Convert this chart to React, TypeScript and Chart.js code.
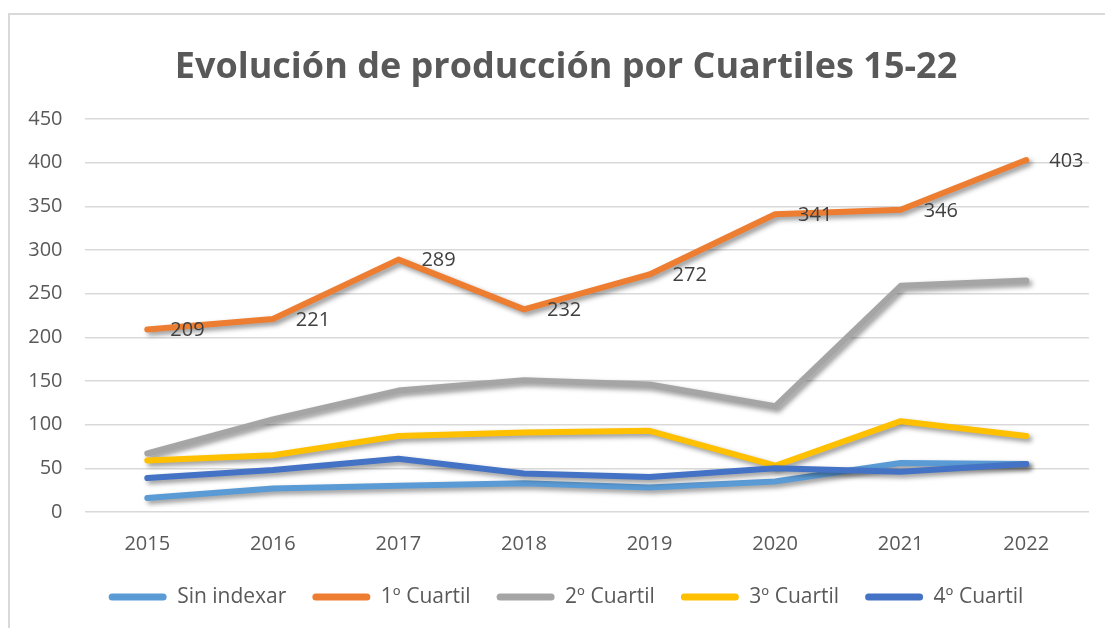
import React, { useEffect, useRef } from "react";
import { Chart, registerables } from "chart.js";

Chart.register(...registerables);

const years = ["2015", "2016", "2017", "2018", "2019", "2020", "2021", "2022"];
const seriesNames = ["Sin indexar", "1º Cuartil", "2º Cuartil", "3º Cuartil", "4º Cuartil"];
const sinIndexar = [16, 27, 30, 33, 28, 35, 56, 55];
const cuartil1 = [209, 221, 289, 232, 272, 341, 346, 403];
const cuartil2 = [67, 106, 139, 151, 146, 121, 259, 265];
const cuartil3 = [59, 65, 87, 91, 93, 53, 104, 87];
const cuartil4 = [39, 48, 61, 44, 40, 50, 46, 55];
const seriesColors = ["#5B9BD5", "#ED7D31", "#A5A5A5", "#FFC000", "#4472C4"];
const yMin = 0;
const yMax = 450;
const yStep = 50;
const titleText = "Evolución de producción por Cuartiles 15-22";
const FONT = "'Open Sans', 'DejaVu Sans', sans-serif";

const shadowPlugin = {
  id: "lineShadow",
  beforeDatasetDraw(chart: any) {
    const ctx = chart.ctx;
    ctx.save();
    ctx.shadowColor = "rgba(0,0,0,0.42)";
    ctx.shadowBlur = 5;
    ctx.shadowOffsetX = 3;
    ctx.shadowOffsetY = 3;
  },
  afterDatasetDraw(chart: any) {
    chart.ctx.restore();
  },
};

const labelPlugin = {
  id: "q1Labels",
  afterDatasetsDraw(chart: any) {
    const ctx = chart.ctx;
    const meta = chart.getDatasetMeta(1);
    const data = chart.data.datasets[1].data as number[];
    ctx.save();
    ctx.font = `20px ${FONT}`;
    ctx.fillStyle = "#404040";
    ctx.textAlign = "left";
    ctx.textBaseline = "middle";
    meta.data.forEach((pt: any, i: number) => {
      ctx.fillText(String(data[i]), pt.x + 23, pt.y + 1);
    });
    ctx.restore();
  },
};

export default function App() {
  const ref = useRef<HTMLCanvasElement>(null);
  useEffect(() => {
    if (!ref.current) return;
    const all = [sinIndexar, cuartil1, cuartil2, cuartil3, cuartil4];
    const chart = new Chart(ref.current, {
      type: "line",
      data: {
        labels: years,
        datasets: all.map((d, i) => ({
          label: seriesNames[i],
          data: d,
          borderColor: seriesColors[i],
          backgroundColor: seriesColors[i],
          borderWidth: 6,
          borderCapStyle: "round",
          borderJoinStyle: "round",
          pointRadius: 0,
          tension: 0,
          fill: false,
          clip: false,
          order: -i,
        })) as any,
      },
      options: {
        responsive: false,
        animation: false,
        layout: { padding: { left: 43, right: 16, top: 0, bottom: 10.5 } },
        plugins: {
          tooltip: { enabled: false },
          title: {
            display: true,
            text: titleText,
            color: "#595959",
            font: { family: FONT, size: 36, weight: "bold", lineHeight: 1.2 },
            padding: { top: 46, bottom: 29.8 },
          },
          legend: {
            position: "bottom",
            labels: {
              sort: (a: any, b: any) => a.datasetIndex - b.datasetIndex,
              boxWidth: 58,
              boxHeight: 7,
              useBorderRadius: true,
              borderRadius: 3.5,
              color: "#595959",
              padding: 26,
              font: { family: FONT, size: 21 },
              generateLabels: (c: any) =>
                c.data.datasets.map((ds: any, i: number) => ({
                  text: ds.label,
                  fillStyle: ds.borderColor,
                  strokeStyle: ds.borderColor,
                  lineWidth: 0,
                  borderRadius: 3.5,
                  datasetIndex: i,
                  hidden: false,
                  fontColor: "#595959",
                })),
            },
          },
        },
        scales: {
          x: {
            offset: true,
            afterFit: (s: any) => {
              s.height = 48.5;
            },
            grid: { display: false, drawTicks: false },
            border: { display: false },
            ticks: { color: "#595959", font: { family: FONT, size: 20 }, padding: 20 },
          },
          y: {
            min: yMin,
            max: yMax,
            afterFit: (s: any) => {
              s.width = 41.5;
              s._computeLabelArea = () => undefined;
            },
            ticks: { stepSize: yStep, color: "#595959", font: { family: FONT, size: 20 }, padding: 22 },
            grid: { color: "#d9d9d9", lineWidth: 1.6, drawTicks: false },
            border: { display: false },
          },
        },
      },
      plugins: [shadowPlugin, labelPlugin],
    });
    return () => chart.destroy();
  }, []);

  return (
    <div style={{ position: "fixed", left: 0, top: 0, width: 1105, height: 628, overflow: "hidden", background: "#fff" }}>
      <canvas ref={ref} width={1105} height={628} style={{ position: "absolute", left: 0, top: 0, width: 1105, height: 628 }} />
      <div
        style={{
          position: "absolute",
          left: 8,
          top: 13,
          width: 1120,
          height: 640,
          border: "2px solid #d9d9d9",
          boxSizing: "border-box",
          pointerEvents: "none",
        }}
      />
    </div>
  );
}
